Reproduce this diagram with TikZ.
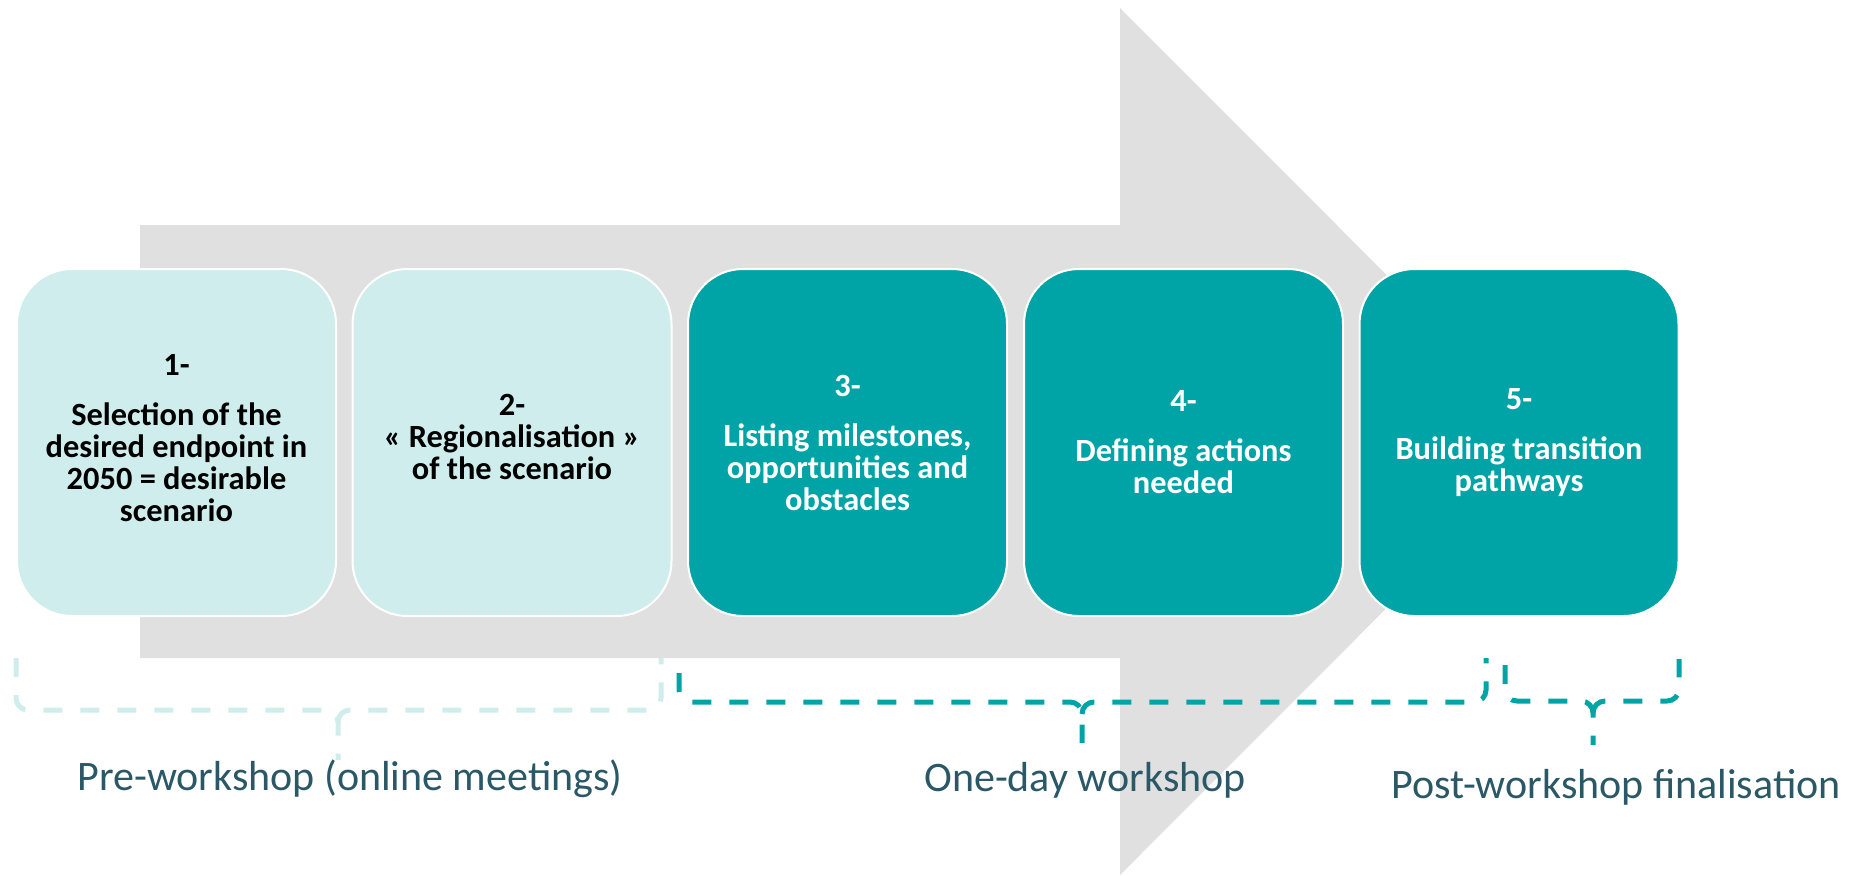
\documentclass[tikz,border=0pt]{standalone}
\usepackage{fontspec}
\setmainfont{Carlito}
\definecolor{lightteal}{HTML}{CFEDEC}
\definecolor{darkteal}{HTML}{00A4A6}
\definecolor{arrowgrey}{HTML}{E0E0E0}
\definecolor{labelcol}{HTML}{2B5866}
\begin{document}
\begin{tikzpicture}[x=0.5pt,y=-0.5pt,
  stepbox/.style={draw=white, line width=1pt, rounded corners=27.5pt,
    minimum width=159.5pt, minimum height=173.5pt, align=center,
    font=\bfseries\fontsize{16.2}{16}\selectfont, inner sep=0pt},
  lightbox/.style={stepbox, fill=lightteal, text=black},
  darkbox/.style={stepbox, fill=darkteal, text=white},
  phase/.style={font=\fontsize{21}{25}\selectfont, text=labelcol, inner sep=0pt},
  bracebase/.style={line width=2.5pt, dash pattern=on 9.5pt off 9pt},
  lightbrace/.style={bracebase, draw=lightteal},
  darkbrace/.style={bracebase, draw=darkteal}
]
\useasboundingbox (0,0) rectangle (1865,875);
% big arrow
\fill[arrowgrey] (140,225) -- (1120,225) -- (1120,8) -- (1553,441.5) -- (1120,875) -- (1120,658) -- (140,658) -- cycle;
% steps
\node[lightbox] (b1) at (176.5,442.5) {};
\node[align=center, font=\bfseries\fontsize{16.2}{16}\selectfont, inner sep=0pt] (t1) at ([yshift=2pt]b1.center) {1-\\[9pt]Selection of the\\desired endpoint in\\2050 = desirable\\scenario};
\node[lightbox] (b2) at (512,442.5) {};
\node[align=center, font=\bfseries\fontsize{16.2}{16}\selectfont, inner sep=0pt] (t2) at ([yshift=3pt]b2.center) {2-\\« Regionalisation »\\of the scenario};
\node[darkbox] (b3) at (847.5,442.5) {3-\\[9pt]Listing milestones,\\opportunities and\\obstacles};
\node[darkbox] (b4) at (1183.5,442.5) {4-\\[9pt]Defining actions\\needed};
\node[darkbox] (b5) at (1519,442.5) {5-\\[9pt]Building transition\\pathways};
% braces
\draw[lightbrace] (16,658) -- (16,698) to[out=-90,in=180] (28,710) -- (326,710) to[out=0,in=90] (338,722) -- (338,760);
\draw[lightbrace] (338,722) to[out=90,in=180] (350,710) -- (649,710) to[out=0,in=-90] (661,698) -- (661,658);
\draw[darkbrace] (679,673) -- (679,690) to[out=-90,in=180] (691,702) -- (1070,702) to[out=0,in=90] (1082,714) -- (1082,743);
\draw[darkbrace] (1082,714) to[out=90,in=180] (1094,702) -- (1474,702) to[out=0,in=-90] (1486,690) -- (1486,658);
\draw[darkbrace] (1505,665) -- (1505,689) to[out=-90,in=180] (1517,701) -- (1581,701) to[out=0,in=90] (1593,713) -- (1593,745);
\draw[darkbrace] (1593,713) to[out=90,in=180] (1605,701) -- (1667,701) to[out=0,in=-90] (1679,689) -- (1679,659);
% phase labels
\node[phase] (p1) at (350,779) {Pre-workshop (online meetings)};
\node[phase] (p2) at (1085,780) {One-day workshop};
\node[phase] (p3) at (1616,787) {Post-workshop finalisation};
\end{tikzpicture}
\end{document}
